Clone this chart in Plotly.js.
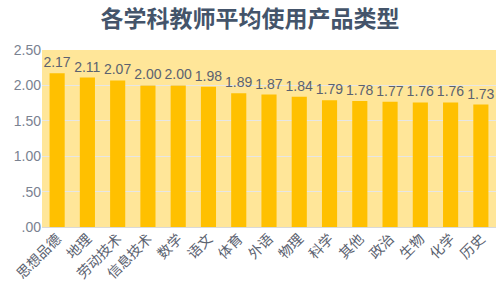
<!DOCTYPE html>
<html><head><meta charset="utf-8">
<script src="https://cdn.plot.ly/plotly-3.0.1.min.js"></script>
<style>html,body{margin:0;padding:0;background:#fff}</style>
</head><body><div id="chart" style="width:500px;height:295px"></div>
<script>
const categories = ["思想品德","地理","劳动技术","信息技术","数学","语文","体育","外语","物理","科学","其他","政治","生物","化学","历史"];
const values = [2.17,2.11,2.07,2.00,2.00,1.98,1.89,1.87,1.84,1.79,1.78,1.77,1.76,1.76,1.73];
const yTickVals = [0,0.5,1,1.5,2,2.5];
const yTickText = [".00",".50","1.00","1.50","2.00","2.50"];
const font = "Noto Sans CJK SC, Noto Sans, sans-serif";
const numFont = "Liberation Sans, Arial, sans-serif";
Plotly.newPlot("chart", [{
  type: "bar", x: categories, y: values,
  marker: {color: "#FFC000", line:{color:"#FFC000", width:0}},
  text: values.map(v => v.toFixed(2)), textposition: "outside", constraintext: "none",
  textfont: {family: numFont, size: 14, color: "#5B6270"},
  cliponaxis: false, width: 0.5
}], {
  width: 500, height: 295,
  margin: {l: 42, r: 4, t: 50, b: 68},
  paper_bgcolor: "#ffffff", plot_bgcolor: "#FFE699",
  title: {text: "<b>各学科教师平均使用产品类型</b>", x: 0.5, xanchor: "center", y: 0.935, yanchor: "middle",
    font: {family: font, size: 23, color: "#44546A"}},
  xaxis: {tickangle: -45, tickfont: {family: font, size: 14, color: "#5B6270"}, showgrid: false, zeroline: false, ticks: ""},
  yaxis: {range: [0, 2.5], tickvals: yTickVals, ticktext: yTickText, showgrid: true, gridcolor: "#E6E6E6", gridwidth: 1,
    zeroline: true, zerolinecolor: "#D9D9D9", tickfont: {family: numFont, size: 14, color: "#7A8291"}},
  showlegend: false
}, {staticPlot: true, displayModeBar: false});
</script></body></html>
